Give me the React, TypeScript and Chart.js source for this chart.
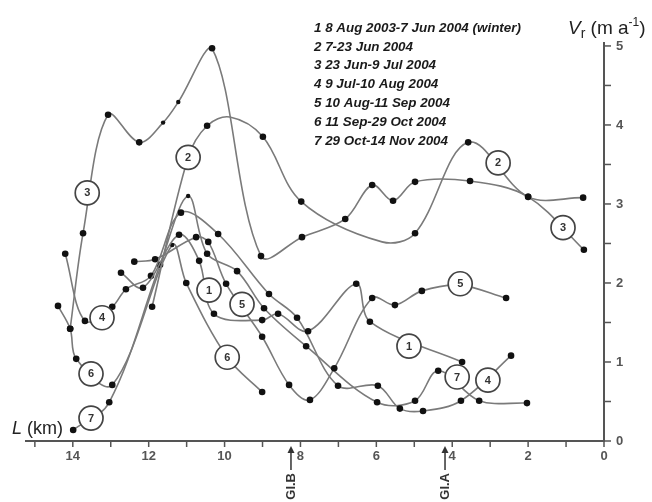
import React, { useEffect, useRef } from "react";
import { Chart, registerables } from "chart.js";
Chart.register(...registerables);

// L = distance (km), V = Vr (m a-1)
const s1L = [12.73, 12.15, 11.2, 10.67, 10.28, 9.01, 8.59, 7.8, 6.53, 6.17, 3.74];
const s1V = [2.13, 1.94, 2.61, 2.28, 1.61, 1.53, 1.61, 1.39, 1.99, 1.51, 1.0];
const s2L = [11.91, 10.96, 10.46, 9.86, 8.99, 7.98, 5.85, 4.98, 3.58, 2.0, 0.55];
const s2V = [1.7, 3.59, 3.99, 4.1, 3.85, 3.03, 2.52, 2.63, 3.78, 3.09, 3.08];
const s3L = [14.07, 13.73, 13.07, 12.25, 11.62, 11.22, 10.33, 9.04, 7.96, 6.82, 6.11, 5.56, 4.98, 3.53, 2.0, 0.53];
const s3V = [1.42, 2.63, 4.13, 3.78, 4.03, 4.29, 4.97, 2.34, 2.58, 2.81, 3.24, 3.04, 3.28, 3.29, 3.09, 2.42];
const s4L = [14.2, 13.68, 12.96, 12.6, 11.94, 11.15, 10.17, 8.83, 8.09, 7.01, 5.96, 5.38, 4.77, 3.77, 2.45];
const s4V = [2.37, 1.52, 1.7, 1.92, 2.09, 2.89, 2.62, 1.86, 1.56, 0.7, 0.7, 0.41, 0.38, 0.51, 1.08];
const s5L = [12.38, 11.83, 10.75, 10.43, 9.96, 9.01, 8.3, 7.75, 7.11, 6.11, 5.51, 4.8, 3.79, 2.58];
const s5V = [2.27, 2.3, 2.58, 2.52, 1.99, 1.32, 0.71, 0.52, 0.92, 1.81, 1.72, 1.9, 1.97, 1.81];
const s6L = [14.39, 14.07, 13.91, 12.96, 11.38, 11.01, 9.93, 9.01];
const s6V = [1.71, 1.42, 1.04, 0.71, 2.48, 2.0, 1.06, 0.62];
const s7L = [13.99, 13.04, 11.7, 10.96, 10.46, 9.67, 8.96, 7.85, 5.98, 4.98, 4.37, 3.29, 2.03];
const s7V = [0.14, 0.49, 2.23, 3.1, 2.37, 2.15, 1.68, 1.2, 0.49, 0.51, 0.89, 0.51, 0.48];

// vertices without a marker, and small markers (indices)
const hiddenIdx: number[][] = [[], [1, 3, 6], [], [], [12], [6], []];
const smallIdx: number[][] = [[], [], [4, 5], [], [], [4], [3]];

// circled series numbers: [series, L, V]
const tagSeries = [1, 1, 2, 2, 3, 3, 4, 4, 5, 5, 6, 6, 7, 7];
const tagL = [10.41, 5.14, 10.96, 2.79, 13.62, 1.08, 13.23, 3.06, 9.54, 3.79, 13.52, 9.93, 13.52, 3.87];
const tagV = [1.91, 1.2, 3.59, 3.52, 3.14, 2.7, 1.56, 0.77, 1.73, 1.99, 0.85, 1.06, 0.29, 0.81];

const legendLines = [
  "1 8 Aug 2003-7 Jun 2004 (winter)",
  "2 7-23 Jun 2004",
  "3 23 Jun-9 Jul 2004",
  "4 9 Jul-10 Aug 2004",
  "5 10 Aug-11 Sep 2004",
  "6 11 Sep-29 Oct 2004",
  "7 29 Oct-14 Nov 2004",
];

const xTicks = [0, 1, 2, 3, 4, 5, 6, 7, 8, 9, 10, 11, 12, 13, 14, 15];
const xTickLabels = ["0", "", "2", "", "4", "", "6", "", "8", "", "10", "", "12", "", "14", ""];
const yTicks = [0, 0.5, 1, 1.5, 2, 2.5, 3, 3.5, 4, 4.5, 5];
const yTickLabels = ["0", "", "1", "", "2", "", "3", "", "4", "", "5"];

const markerNames = ["GI.B", "GI.A"];
const markerL = [8.25, 4.19];

const allL = [s1L, s2L, s3L, s4L, s5L, s6L, s7L];
const allV = [s1V, s2V, s3V, s4V, s5V, s6V, s7V];

const FONT = '"Liberation Sans", Arial, sans-serif';

const decorPlugin = {
  id: "decor",
  beforeDatasetsDraw(chart: any) {
    const ctx = chart.ctx;
    const xs = chart.scales.x;
    const ys = chart.scales.y;
    const x0 = xs.getPixelForValue(0);
    const y0 = ys.getPixelForValue(0);
    const yTop = ys.getPixelForValue(ys.max);
    const xLeft = xs.getPixelForValue(xs.max);
    ctx.save();
    ctx.strokeStyle = "#555";
    ctx.lineWidth = 2;
    ctx.beginPath();
    ctx.moveTo(xLeft, y0);
    ctx.lineTo(x0, y0);
    ctx.moveTo(x0, y0 + 1);
    ctx.lineTo(x0, yTop);
    ctx.stroke();
    ctx.lineWidth = 1.5;
    ctx.fillStyle = "#555";
    ctx.font = `bold 13px ${FONT}`;
    ctx.textAlign = "center";
    ctx.textBaseline = "middle";
    xTicks.forEach((t, i) => {
      const px = xs.getPixelForValue(t);
      ctx.beginPath();
      ctx.moveTo(px, y0);
      ctx.lineTo(px, y0 + 6);
      ctx.stroke();
      if (xTickLabels[i]) ctx.fillText(xTickLabels[i], px, y0 + 15);
    });
    ctx.textAlign = "left";
    yTicks.forEach((t, i) => {
      const py = ys.getPixelForValue(t);
      ctx.beginPath();
      ctx.moveTo(x0, py);
      ctx.lineTo(x0 + 7, py);
      ctx.stroke();
      if (yTickLabels[i]) ctx.fillText(yTickLabels[i], x0 + 12, py);
    });
    // GI markers
    markerNames.forEach((name, i) => {
      const px = xs.getPixelForValue(markerL[i]);
      ctx.strokeStyle = "#333";
      ctx.fillStyle = "#333";
      ctx.lineWidth = 1.5;
      ctx.beginPath();
      ctx.moveTo(px, y0 + 9);
      ctx.lineTo(px, y0 + 29);
      ctx.stroke();
      ctx.beginPath();
      ctx.moveTo(px, y0 + 5);
      ctx.lineTo(px - 3.5, y0 + 12);
      ctx.lineTo(px + 3.5, y0 + 12);
      ctx.closePath();
      ctx.fill();
      ctx.save();
      ctx.translate(px, y0 + 32);
      ctx.rotate(-Math.PI / 2);
      ctx.font = `bold 13px ${FONT}`;
      ctx.textAlign = "right";
      ctx.textBaseline = "middle";
      ctx.fillText(name, 0, 0);
      ctx.restore();
    });
    // axis titles
    ctx.fillStyle = "#222";
    ctx.textBaseline = "alphabetic";
    ctx.textAlign = "left";
    let x = 12;
    ctx.font = `italic 18px ${FONT}`;
    ctx.fillText("L", x, 434);
    x += ctx.measureText("L").width;
    ctx.font = `18px ${FONT}`;
    ctx.fillText(" (km)", x, 434);

    x = 568;
    ctx.font = `italic 19px ${FONT}`;
    ctx.fillText("V", x, 34);
    x += ctx.measureText("V").width;
    ctx.font = `14px ${FONT}`;
    ctx.fillText("r", x, 38);
    x += ctx.measureText("r").width;
    ctx.font = `19px ${FONT}`;
    ctx.fillText(" (m a", x, 34);
    x += ctx.measureText(" (m a").width;
    ctx.font = `12px ${FONT}`;
    ctx.fillText("-1", x, 26);
    x += ctx.measureText("-1").width;
    ctx.font = `19px ${FONT}`;
    ctx.fillText(")", x, 34);

    // legend
    ctx.font = `italic bold 13.4px ${FONT}`;
    ctx.fillStyle = "#1a1a1a";
    ctx.textBaseline = "middle";
    legendLines.forEach((ln, i) => {
      ctx.fillText(ln, 314, 28 + i * 18.9);
    });
    ctx.restore();
  },
  afterDatasetsDraw(chart: any) {
    const ctx = chart.ctx;
    const xs = chart.scales.x;
    const ys = chart.scales.y;
    ctx.save();
    tagSeries.forEach((s, i) => {
      const px = xs.getPixelForValue(tagL[i]);
      const py = ys.getPixelForValue(tagV[i]);
      ctx.beginPath();
      ctx.arc(px, py, 12, 0, Math.PI * 2);
      ctx.fillStyle = "#fff";
      ctx.fill();
      ctx.lineWidth = 1.7;
      ctx.strokeStyle = "#444";
      ctx.stroke();
      ctx.fillStyle = "#333";
      ctx.font = `bold 11px ${FONT}`;
      ctx.textAlign = "center";
      ctx.textBaseline = "middle";
      ctx.fillText(String(s), px, py + 0.5);
    });
    ctx.restore();
  },
};

export default function App() {
  const ref = useRef<HTMLCanvasElement>(null);
  useEffect(() => {
    document.body.style.margin = "0";
    const datasets = allL.map((Ls, si) => ({
      label: `s${si + 1}`,
      data: Ls.map((l, j) => ({ x: l, y: allV[si][j] })),
      showLine: true,
      tension: 0.35,
      borderColor: "#7a7a7a",
      borderWidth: 1.6,
      backgroundColor: "#111",
      pointBackgroundColor: "#111",
      pointBorderWidth: 0,
      pointRadius: Ls.map((_, j) =>
        hiddenIdx[si].includes(j) ? 0 : smallIdx[si].includes(j) ? 2.2 : 3.3
      ),
      clip: false as any,
    }));
    const chart = new Chart(ref.current!, {
      type: "scatter",
      data: { datasets },
      options: {
        animation: false,
        responsive: false,
        layout: { padding: { left: 25, right: 48, top: 42, bottom: 61 } },
        plugins: { legend: { display: false }, tooltip: { enabled: false } },
        scales: {
          x: { type: "linear", reverse: true, min: 0, max: 15.26, display: false },
          y: { type: "linear", min: 0, max: 5.05, display: false },
        },
      },
      plugins: [decorPlugin],
    });
    return () => chart.destroy();
  }, []);
  return (
    <div style={{ width: 652, height: 502, overflow: "hidden", background: "#fff" }}>
      <canvas ref={ref} width={652} height={502} style={{ display: "block" }} />
    </div>
  );
}
